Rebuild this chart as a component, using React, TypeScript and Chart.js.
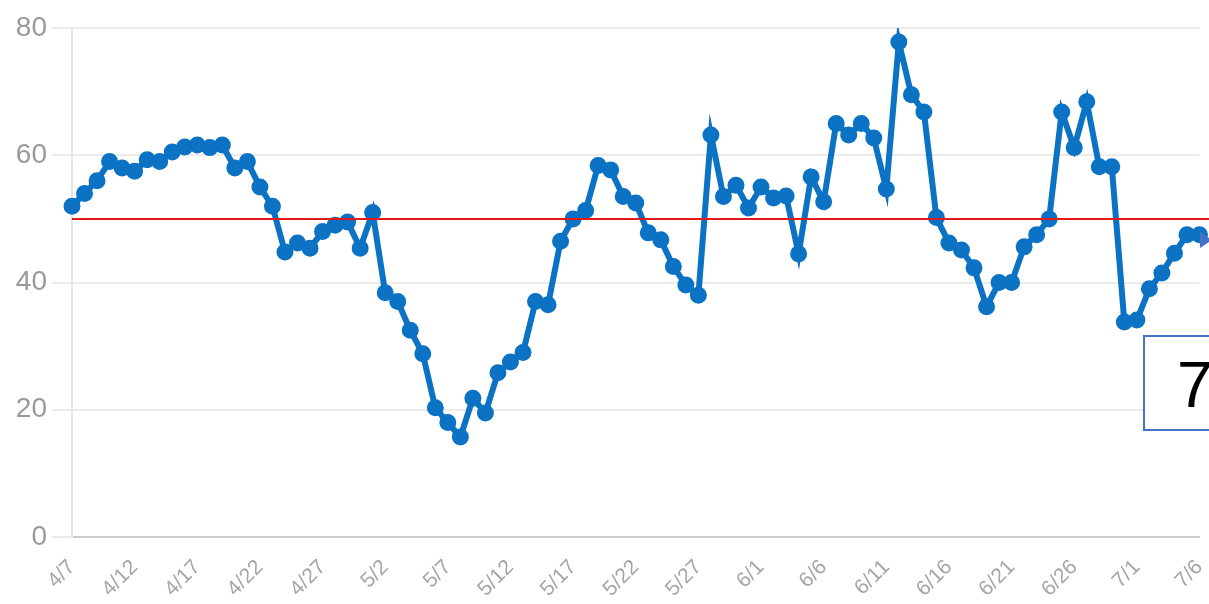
import React, { useEffect, useRef } from "react";
import { Chart, registerables } from "chart.js";

Chart.register(...registerables);

const dateLabels: string[] = [
  "4/7", "4/8", "4/9", "4/10", "4/11", "4/12", "4/13", "4/14", "4/15", "4/16",
  "4/17", "4/18", "4/19", "4/20", "4/21", "4/22", "4/23", "4/24", "4/25", "4/26",
  "4/27", "4/28", "4/29", "4/30", "5/1", "5/2", "5/3", "5/4", "5/5", "5/6",
  "5/7", "5/8", "5/9", "5/10", "5/11", "5/12", "5/13", "5/14", "5/15", "5/16",
  "5/17", "5/18", "5/19", "5/20", "5/21", "5/22", "5/23", "5/24", "5/25", "5/26",
  "5/27", "5/28", "5/29", "5/30", "5/31", "6/1", "6/2", "6/3", "6/4", "6/5",
  "6/6", "6/7", "6/8", "6/9", "6/10", "6/11", "6/12", "6/13", "6/14", "6/15",
  "6/16", "6/17", "6/18", "6/19", "6/20", "6/21", "6/22", "6/23", "6/24", "6/25",
  "6/26", "6/27", "6/28", "6/29", "6/30", "7/1", "7/2", "7/3", "7/4", "7/5",
  "7/6",
];

const seriesValues: number[] = [
  52, 54, 56, 59, 58, 57.5, 59.3, 59, 60.5, 61.3,
  61.6, 61.2, 61.6, 58, 59, 55, 52, 44.8, 46.2, 45.4,
  48, 49, 49.5, 45.4, 51, 38.4, 37, 32.5, 28.8, 20.3,
  18, 15.7, 21.8, 19.5, 25.8, 27.5, 29, 37, 36.5, 46.5,
  50, 51.3, 58.4, 57.7, 53.5, 52.5, 47.8, 46.7, 42.5, 39.6,
  38, 63.2, 53.5, 55.3, 51.7, 55, 53.3, 53.6, 44.5, 56.6,
  52.7, 65, 63.2, 65, 62.7, 54.7, 77.8, 69.5, 66.8, 50.2,
  46.2, 45.1, 42.3, 36.2, 40, 40, 45.6, 47.5, 50, 66.8,
  61.2, 68.4, 58.2, 58.2, 33.8, 34.1, 39, 41.5, 44.6, 47.5,
  47.5,
];

const yTicks: number[] = [0, 20, 40, 60, 80];
const referenceValue = 50;
const boxText = "7";

export default function App() {
  const canvasRef = useRef<HTMLCanvasElement | null>(null);

  useEffect(() => {
    if (!canvasRef.current) return;
    const refLine = {
      id: "refLine",
      afterDatasetsDraw(chart: any) {
        const { ctx, chartArea, scales } = chart;
        const y = scales.y.getPixelForValue(referenceValue);
        ctx.save();
        ctx.strokeStyle = "#e3191c";
        ctx.lineWidth = 2;
        ctx.beginPath();
        ctx.moveTo(chartArea.left, y);
        ctx.lineTo(chart.width, y);
        ctx.stroke();
        ctx.restore();
      },
    };
    const chart = new Chart(canvasRef.current, {
      type: "line",
      data: {
        labels: dateLabels,
        datasets: [
          {
            data: seriesValues,
            borderColor: "#0b72c4",
            backgroundColor: "#0b72c4",
            borderWidth: 6,
            pointRadius: 7.5,
            pointBorderWidth: 2,
            pointBorderColor: "#0b72c4",
            pointBackgroundColor: "#0b72c4",
            tension: 0,
          },
        ],
      },
      options: {
        animation: false,
        responsive: true,
        maintainAspectRatio: false,
        layout: { padding: { top: 28, right: 9, left: 0, bottom: 0 } },
        plugins: {
          legend: { display: false },
          tooltip: { enabled: false },
        },
        scales: {
          x: {
            offset: false,
            grid: { display: false },
            border: { display: true, color: "#cccccc", width: 2 },
            ticks: {
              autoSkip: false,
              maxRotation: 45,
              minRotation: 45,
              padding: 10,
              color: "#a6a6a6",
              font: { family: "Liberation Sans, Arial", size: 21 },
              callback: (_v: any, i: number) => (i % 5 === 0 ? dateLabels[i] : ""),
            },
            afterFit: (s: any) => {
              s.height = 67;
              s.paddingRight = 0;
              s.paddingLeft = 0;
            },
          },
          y: {
            min: 0,
            max: 80,
            afterBuildTicks: (s: any) => {
              s.ticks = yTicks.map((v) => ({ value: v }));
            },
            grid: {
              color: "#ebebeb",
              lineWidth: 2,
              tickLength: 20,
              tickColor: "#ebebeb",
            },
            border: { display: true, color: "#e6e6e6", width: 2 },
            ticks: {
              padding: 5,
              color: "#9a9a9a",
              font: { family: "Liberation Sans, Arial", size: 28 },
            },
            afterFit: (s: any) => {
              s.width = 72;
            },
          },
        },
      },
      plugins: [refLine],
    });
    return () => chart.destroy();
  }, []);

  return (
    <div
      style={{
        position: "absolute",
        left: 0,
        top: 0,
        width: 1209,
        height: 604,
        overflow: "hidden",
        background: "#ffffff",
      }}
    >
      <canvas ref={canvasRef} width={1209} height={604} />
      <div
        style={{
          position: "absolute",
          left: 1143,
          top: 335,
          width: 90,
          height: 96,
          border: "2px solid #4472c4",
          background: "#ffffff",
          boxSizing: "border-box",
          fontFamily: "Liberation Sans, Arial, sans-serif",
          fontSize: 64,
          lineHeight: "96px",
          color: "#000000",
          paddingLeft: 32,
        }}
      >
        {boxText}
      </div>
      <div
        style={{
          position: "absolute",
          left: 1200,
          top: 232,
          width: 0,
          height: 0,
          borderTop: "8px solid transparent",
          borderBottom: "8px solid transparent",
          borderLeft: "12px solid #4472c4",
        }}
      />
    </div>
  );
}
